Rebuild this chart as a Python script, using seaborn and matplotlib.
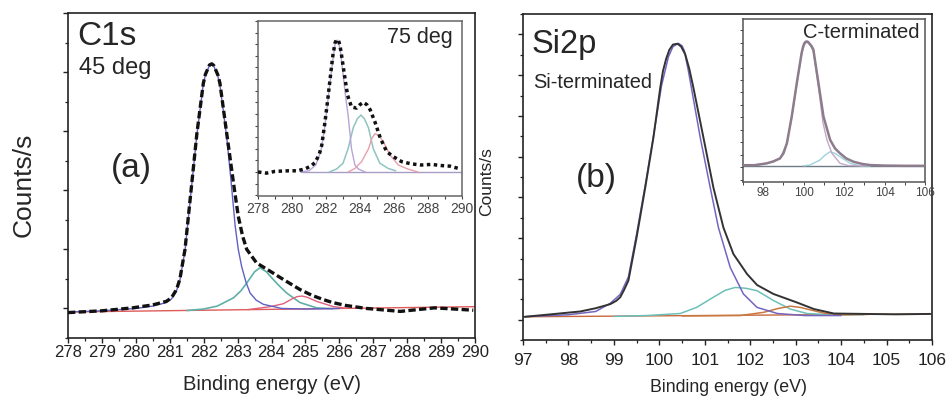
import matplotlib
matplotlib.use("Agg")
import matplotlib.pyplot as plt
import seaborn as sns
from matplotlib.ticker import MultipleLocator, NullFormatter

# ---- C1s 45 deg (panel a) ----
c1s_env_e = [278.0, 279.0, 279.9, 280.5, 280.9, 281.05, 281.2, 281.3, 281.45, 281.6, 281.8, 281.99,
             282.05, 282.17, 282.24, 282.3, 282.42, 282.48, 282.68, 282.88, 283.02, 283.15, 283.27,
             283.56, 283.96, 284.35, 284.84, 285.2, 285.53, 285.8, 286.2, 286.8, 287.8, 288.8,
             289.4, 289.95]
c1s_env_i = [-0.07, -0.04, 0.01, 0.06, 0.12, 0.18, 0.32, 0.5, 1.0, 1.84, 2.96, 3.81,
             3.96, 4.12, 4.14, 4.11, 3.95, 3.81, 2.96, 2.12, 1.56, 1.22, 1.0,
             0.77, 0.63, 0.49, 0.32, 0.22, 0.15, 0.1, 0.05, 0.0, -0.05, 0.01,
             -0.01, -0.03]
c1s_p1_e = [278.0, 279.0, 280.0, 280.5, 280.9, 281.05, 281.2, 281.3, 281.45, 281.6, 281.8, 281.99,
            282.05, 282.17, 282.24, 282.3, 282.42, 282.48, 282.68, 282.8, 282.93, 283.02, 283.12,
            283.25, 283.37, 283.55, 283.76, 284.3, 285.0, 286.0]
c1s_p1_i = [-0.06, -0.04, 0.0, 0.04, 0.1, 0.16, 0.3, 0.48, 0.98, 1.82, 2.94, 3.8,
            3.95, 4.11, 4.13, 4.1, 3.93, 3.78, 2.9, 2.2, 1.39, 1.0, 0.71,
            0.44, 0.26, 0.14, 0.07, 0.0, -0.01, 0.0]
c1s_p2_e = [281.5, 282.0, 282.4, 282.88, 283.1, 283.27, 283.5, 283.66, 283.85, 284.05, 284.25,
            284.45, 284.84, 285.33, 285.8]
c1s_p2_i = [-0.035, -0.01, 0.04, 0.18, 0.3, 0.43, 0.62, 0.69, 0.62, 0.49, 0.37,
            0.26, 0.1, 0.01, -0.005]
c1s_p3_e = [283.3, 283.96, 284.35, 284.6, 284.75, 284.9, 285.05, 285.33, 285.83, 286.3]
c1s_p3_i = [-0.02, 0.03, 0.08, 0.16, 0.2, 0.21, 0.19, 0.12, 0.03, 0.0]
c1s_bg_e = [278.0, 290.0]
c1s_bg_i = [-0.06, 0.03]

# ---- C1s 75 deg (inset a) ----
c75_env_e = [278.0, 278.5, 279.0, 279.8, 280.3, 280.76, 281.1, 281.35, 281.6, 281.75, 281.94, 282.1,
             282.24, 282.4, 282.53, 282.6, 282.68, 282.74, 282.8, 282.88, 283.08, 283.27, 283.5,
             283.8, 284.0, 284.19, 284.4, 284.6, 284.88, 285.2, 285.57, 285.96, 286.45, 287.0,
             287.6, 288.2, 288.8, 289.3, 289.8]
c75_env_i = [0.0, -0.1, 0.05, 0.1, 0.1, 0.26, 0.5, 0.8, 1.5, 2.3, 4.3, 6.2,
             8.0, 10.0, 11.1, 11.35, 11.4, 11.3, 11.0, 10.4, 8.4, 6.6, 5.6,
             5.5, 5.8, 6.0, 5.8, 5.35, 4.3, 2.9, 1.75, 1.32, 0.89, 0.7,
             0.6, 0.65, 0.55, 0.5, 0.3]
c75_p1_e = [280.5, 281.0, 281.4, 281.7, 281.94, 282.24, 282.53, 282.6, 282.68, 282.75, 282.85,
            283.0, 283.15, 283.3, 283.5, 283.7, 283.9, 284.3]
c75_p1_i = [0.0, 0.1, 0.6, 1.8, 4.0, 7.8, 11.0, 11.3, 11.35, 11.1, 10.4,
            8.5, 6.5, 4.9, 2.0, 0.6, 0.26, 0.0]
c75_p2_e = [282.2, 282.63, 283.0, 283.3, 283.6, 283.85, 284.06, 284.25, 284.5, 284.78, 285.17,
            285.66, 286.1]
c75_p2_i = [0.0, 0.26, 0.75, 2.0, 3.8, 4.6, 4.9, 4.6, 3.8, 2.0, 0.75,
            0.3, 0.1]
c75_p3_e = [283.3, 283.7, 284.1, 284.5, 284.7, 284.88, 285.1, 285.37, 285.76, 286.25, 286.8, 287.4]
c75_p3_i = [0.0, 0.3, 0.9, 2.0, 2.9, 3.3, 3.15, 2.6, 1.47, 0.6, 0.26, 0.0]
c75_bg_e = [280.5, 290.0]
c75_bg_i = [0.0, 0.0]

# ---- Si2p Si-terminated (panel b) ----
si_env_e = [97.04, 97.52, 98.26, 98.6, 98.92, 99.05, 99.14, 99.22, 99.32, 99.5, 99.69, 99.87,
            100.02, 100.08, 100.15, 100.22, 100.3, 100.4, 100.48, 100.57, 100.66, 100.75, 100.97,
            101.19, 101.41, 101.63, 101.93, 102.15, 102.51, 103.03, 103.4, 103.84, 104.5, 105.2,
            105.96]
si_env_i = [0.07, 0.12, 0.2, 0.28, 0.38, 0.46, 0.55, 0.72, 0.96, 2.02, 3.24, 4.47,
            5.69, 6.1, 6.4, 6.62, 6.75, 6.77, 6.7, 6.51, 6.15, 5.69, 4.47,
            3.24, 2.26, 1.61, 1.12, 0.85, 0.63, 0.42, 0.26, 0.15, 0.14, 0.13,
            0.14]
si_p1_e = [97.0, 98.0, 98.6, 98.92, 99.14, 99.32, 99.5, 99.69, 99.87, 100.05, 100.2, 100.3,
           100.42, 100.5, 100.55, 100.64, 100.9, 101.12, 101.3, 101.56, 101.85, 102.15, 102.6,
           103.2, 104.0]
si_p1_i = [0.07, 0.12, 0.2, 0.4, 0.62, 1.05, 2.1, 3.3, 4.5, 5.75, 6.45, 6.7,
           6.78, 6.72, 6.6, 6.1, 4.47, 3.24, 2.26, 1.28, 0.63, 0.3, 0.15,
           0.1, 0.1]
si_p2_e = [99.0, 99.72, 100.46, 100.82, 101.19, 101.45, 101.67, 101.9, 102.15, 102.51, 102.88,
           103.25, 103.76, 104.5]
si_p2_i = [0.08, 0.1, 0.15, 0.3, 0.55, 0.72, 0.79, 0.77, 0.71, 0.47, 0.26,
           0.15, 0.12, 0.12]
si_p3_e = [100.5, 101.78, 102.3, 102.6, 102.88, 103.1, 103.32, 103.62, 104.0, 104.6]
si_p3_i = [0.09, 0.1, 0.18, 0.27, 0.33, 0.3, 0.24, 0.16, 0.12, 0.13]
si_bg_e = [97.0, 106.0]
si_bg_i = [0.07, 0.14]

# ---- Si2p C-terminated (inset b) ----
ct_env_e = [97.0, 97.6, 98.17, 98.5, 98.83, 99.0, 99.17, 99.41, 99.66, 99.9, 99.96, 100.02,
            100.08, 100.15, 100.22, 100.3, 100.4, 100.48, 100.73, 100.98, 101.31, 101.55, 101.8,
            102.1, 102.46, 102.9, 103.29, 104.0, 105.0, 106.0]
ct_env_i = [0.15, 0.15, 0.3, 0.45, 0.7, 1.1, 1.91, 4.06, 6.75, 9.17, 9.6, 9.9,
            10.05, 10.1, 10.05, 9.9, 9.7, 9.44, 6.75, 4.06, 2.18, 1.5, 1.1,
            0.7, 0.43, 0.25, 0.16, 0.12, 0.1, 0.1]
ct_p1_e = [97.0, 98.17, 98.83, 99.17, 99.41, 99.66, 99.9, 100.02, 100.15, 100.3, 100.48, 100.73,
           100.95, 101.15, 101.4, 101.8, 102.2, 103.0]
ct_p1_i = [0.12, 0.28, 0.68, 1.88, 4.0, 6.7, 9.1, 9.8, 10.05, 9.85, 9.3, 6.5,
           3.6, 2.18, 1.1, 0.3, 0.12, 0.1]
ct_p2_e = [100.0, 100.3, 100.8, 101.05, 101.3, 101.55, 101.8, 102.3, 102.8, 103.3]
ct_p2_i = [0.1, 0.16, 0.56, 0.95, 1.23, 1.1, 0.83, 0.3, 0.1, 0.08]
ct_bg_e = [97.0, 106.0]
ct_bg_i = [0.1, 0.1]

sns.set_style("ticks")
plt.rcParams['font.family'] = ['Liberation Sans', 'DejaVu Sans']

W, H = 948, 400
fig = plt.figure(figsize=(W / 100, H / 100), dpi=100)
fig.set_facecolor('white')


def box(l, t, r, b):
    # pixel box -> figure fraction rect
    return [l / W, 1 - b / H, (r - l) / W, (b - t) / H]


def curve(ax, e, i, color, lw, ls='-', z=2):
    sns.lineplot(x=e, y=i, ax=ax, color=color, linewidth=lw, linestyle=ls,
                 sort=False, estimator=None, zorder=z)


def frame(ax, spine_c, spine_w):
    for s in ax.spines.values():
        s.set_visible(True)
        s.set_color(spine_c)
        s.set_linewidth(spine_w)
    ax.set_xlabel('')
    ax.set_ylabel('')
    ax.yaxis.set_major_formatter(NullFormatter())
    ax.yaxis.set_minor_formatter(NullFormatter())


# panel (a)
ax_a = fig.add_axes(box(68, 13, 475, 338))
curve(ax_a, c1s_bg_e, c1s_bg_i, '#e05a5a', 1.0)
curve(ax_a, c1s_p2_e, c1s_p2_i, '#5fb0a8', 1.2)
curve(ax_a, c1s_p3_e, c1s_p3_i, '#e0607a', 1.0)
curve(ax_a, c1s_p1_e, c1s_p1_i, '#6060c4', 1.0)
curve(ax_a, c1s_env_e, c1s_env_i, '#111111', 2.4, (0, (2.2, 1.0)), z=3)
ax_a.set_xlim(278, 290)
ax_a.set_ylim(-0.5, 5.0)
frame(ax_a, '#222222', 1.2)
ax_a.xaxis.set_major_locator(MultipleLocator(1))
ax_a.xaxis.set_minor_locator(MultipleLocator(0.5))
ax_a.yaxis.set_major_locator(MultipleLocator(1))
ax_a.yaxis.set_minor_locator(MultipleLocator(0.5))
ax_a.tick_params(which='major', direction='out', length=3.6, width=1.0, labelsize=12, pad=1.5,
                 colors='#222222')
ax_a.tick_params(which='minor', direction='out', length=2.2, width=0.9, colors='#222222')
ax_a.set_xlabel('Binding energy (eV)', fontsize=14.5, va='center')
ax_a.xaxis.set_label_coords((272 - 68) / 407, (338 - 385) / 325)
ax_a.set_ylabel('Counts/s', fontsize=19, va='center')
ax_a.yaxis.set_label_coords((24 - 68) / 407, (338 - 185) / 325)
ax_a.text((77 - 68) / 407, (338 - 45) / 325, 'C1s', transform=ax_a.transAxes, fontsize=24,
          va='baseline', ha='left')
ax_a.text((79 - 68) / 407, (338 - 74) / 325, '45 deg', transform=ax_a.transAxes, fontsize=17,
          va='baseline', ha='left')
ax_a.text((131 - 68) / 407, (338 - 169) / 325, '(a)', transform=ax_a.transAxes, fontsize=24,
          va='center', ha='center')

# inset (a)
in_a = fig.add_axes(box(258, 21, 462, 196))
curve(in_a, c75_bg_e, c75_bg_i, '#a89cc4', 1.0)
curve(in_a, c75_p2_e, c75_p2_i, '#8fc4c0', 1.1)
curve(in_a, c75_p3_e, c75_p3_i, '#e8a0ac', 1.0)
curve(in_a, c75_p1_e, c75_p1_i, '#b9a4d4', 1.0)
curve(in_a, c75_env_e, c75_env_i, '#111111', 2.5, (0, (1.0, 1.0)), z=3)
in_a.set_xlim(278, 290)
in_a.set_ylim(-2.07, 13.0)
frame(in_a, '#666666', 1.1)
in_a.xaxis.set_major_locator(MultipleLocator(2))
in_a.xaxis.set_minor_locator(MultipleLocator(1))
in_a.yaxis.set_major_locator(MultipleLocator(1))
in_a.tick_params(which='major', direction='out', length=2.2, width=0.8, labelsize=10, pad=2,
                 colors='#444444')
in_a.tick_params(which='minor', direction='out', length=2.2, width=0.8, colors='#444444')
in_a.text(0.955, (196 - 43) / 175, '75 deg', transform=in_a.transAxes, fontsize=15.5,
          va='baseline', ha='right')

# panel (b)
ax_b = fig.add_axes(box(523, 14, 932, 340))
curve(ax_b, si_bg_e, si_bg_i, '#c8683c', 1.0)
curve(ax_b, si_p2_e, si_p2_i, '#6cc0b8', 1.1)
curve(ax_b, si_p3_e, si_p3_i, '#c87840', 1.1)
curve(ax_b, si_p1_e, si_p1_i, '#7466c0', 1.1)
curve(ax_b, si_env_e, si_env_i, '#333333', 1.4, z=3)
ax_b.set_xlim(97, 106)
ax_b.set_ylim(-0.5, 7.5)
frame(ax_b, '#222222', 1.2)
ax_b.xaxis.set_major_locator(MultipleLocator(1))
ax_b.xaxis.set_minor_locator(MultipleLocator(0.5))
ax_b.yaxis.set_major_locator(MultipleLocator(1))
ax_b.yaxis.set_minor_locator(MultipleLocator(0.5))
ax_b.tick_params(which='major', direction='out', length=3.6, width=1.0, labelsize=12.5, pad=6,
                 colors='#222222')
ax_b.tick_params(which='minor', direction='out', length=2.2, width=0.9, colors='#222222')
ax_b.set_xlabel('Binding energy (eV)', fontsize=12.8, va='center')
ax_b.xaxis.set_label_coords((728 - 523) / 409, (340 - 388) / 326)
ax_b.set_ylabel('Counts/s', fontsize=12.5, va='center')
ax_b.yaxis.set_label_coords((487 - 523) / 409, (340 - 182) / 326)
ax_b.text((532 - 523) / 409, (340 - 53) / 326, 'Si2p', transform=ax_b.transAxes, fontsize=23.5,
          va='baseline', ha='left')
ax_b.text((533 - 523) / 409, (340 - 88) / 326, 'Si-terminated', transform=ax_b.transAxes,
          fontsize=14.4, va='baseline', ha='left')
ax_b.text((596 - 523) / 409, (340 - 178) / 326, '(b)', transform=ax_b.transAxes, fontsize=24,
          va='center', ha='center')

# inset (b)
in_b = fig.add_axes(box(743, 19, 925, 182))
curve(in_b, ct_bg_e, ct_bg_i, '#6f7c86', 1.0)
curve(in_b, ct_p2_e, ct_p2_i, '#9fd0dc', 1.0)
curve(in_b, ct_p1_e, ct_p1_i, '#c4a8c8', 1.0)
curve(in_b, ct_env_e, ct_env_i, '#8c7c8c', 1.8, z=3)
in_b.set_xlim(97, 106)
in_b.set_ylim(-1.2, 11.9)
frame(in_b, '#555555', 1.1)
in_b.xaxis.set_major_locator(MultipleLocator(2))
in_b.xaxis.set_minor_locator(MultipleLocator(1))
in_b.yaxis.set_major_locator(MultipleLocator(1))
in_b.tick_params(which='major', direction='out', length=2.0, width=0.7, labelsize=8.5, pad=1.5,
                 colors='#444444')
in_b.tick_params(which='minor', direction='out', length=2.0, width=0.7, colors='#444444')
in_b.text((920 - 743) / 182, (182 - 38) / 163, 'C-terminated', transform=in_b.transAxes,
          fontsize=14.5, va='baseline', ha='right')

fig.savefig('out.png', dpi=100, facecolor='white')
